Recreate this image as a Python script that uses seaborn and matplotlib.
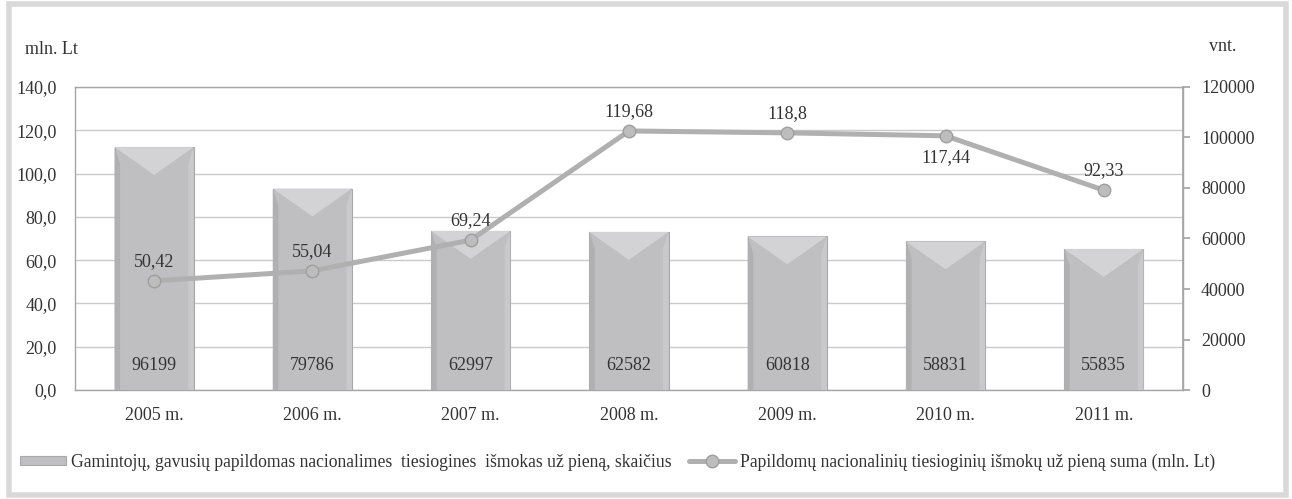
#import libraries
import seaborn as sns
import matplotlib.pyplot as plt
from matplotlib.patches import Polygon, Rectangle

#data
years = ['2005 m.', '2006 m.', '2007 m.', '2008 m.', '2009 m.', '2010 m.', '2011 m.']
farms = [96199, 79786, 62997, 62582, 60818, 58831, 55835]
payments = [50.42, 55.04, 69.24, 119.68, 118.8, 117.44, 92.33]
bar_label = 'Gamintojų, gavusių papildomas nacionalimes  tiesiogines  išmokas už pieną, skaičius'
line_label = 'Papildomų nacionalinių tiesioginių išmokų už pieną suma (mln. Lt)'

#settings
sns.set_theme(style='white')
plt.rcParams['font.family'] = ['Liberation Serif', 'DejaVu Serif']
txt = '#333333'
fs = 13

fig = plt.figure(figsize=(12.92, 4.99), dpi=100)
ax = fig.add_axes([0.058, 0.2184, 0.8576, 0.6073])
ax2 = ax.twinx()
ax3 = ax.twinx()

#left scale (mln. Lt) with grid
ax.set_ylim(0, 140)
ax.set_yticks(range(0, 141, 20))
ax.set_yticklabels([f'{v:.1f}'.replace('.', ',') for v in range(0, 141, 20)], color=txt, fontsize=fs)
ax.tick_params(axis='y', length=0, pad=13)
ax.grid(axis='y', color='#cacaca', linewidth=1)
ax.grid(axis='x', visible=False)
for s in ax.spines.values():
    s.set_color('#a6a6a6')
    s.set_linewidth(1)

#bars (right scale)
sns.barplot(x=years, y=farms, ax=ax2, color='#bfbfc1', width=0.5,
            edgecolor='#a8a8a8', linewidth=0.8, saturation=1)
ax2.set_ylim(0, 120000)
ax2.set_yticks(range(0, 120001, 20000))
ax2.tick_params(axis='y', length=5, color='#a6a6a6', pad=8, labelsize=fs, labelcolor=txt, right=True)
ax2.set_ylabel('')
for s in ax2.spines.values():
    s.set_visible(False)
ax2.spines['right'].set_visible(True)
ax2.spines['right'].set_color('#a6a6a6')

#bevel look on bars
depth = 0.092 * 120000
for p in ax2.patches:
    x0, w, h = p.get_x(), p.get_width(), p.get_height()
    ax2.add_patch(Polygon([(x0, h), (x0 + w, h), (x0 + w / 2, h - depth)],
                          closed=True, facecolor='#d3d3d5', edgecolor='none', zorder=3))
    ax2.add_patch(Polygon([(x0, h), (x0 + w * 0.07, h - depth * 0.6), (x0 + w * 0.07, 0), (x0, 0)],
                          closed=True, facecolor='#b0b0b2', edgecolor='none', zorder=3))
    ax2.add_patch(Polygon([(x0 + w, h), (x0 + w * 0.93, h - depth * 0.6), (x0 + w * 0.93, 0), (x0 + w, 0)],
                          closed=True, facecolor='#c9c9cb', edgecolor='none', zorder=3))

#bar value labels
for i, v in enumerate(farms):
    ax2.annotate(str(v), (i, 0), xytext=(0, 18), textcoords='offset points',
                 ha='center', va='center', fontsize=fs, color=txt, zorder=5)

#line (left scale)
sns.pointplot(x=years, y=payments, ax=ax3, color='#b0b0b0', markers='o',
              linestyles='-', linewidth=3.6, markersize=9,
              markeredgecolor='#9e9e9e', markeredgewidth=1, markerfacecolor='#bdbdbd')
ax3.set_ylim(0, 140)
ax3.set_yticks([])
ax3.set_ylabel('')
for s in ax3.spines.values():
    s.set_visible(False)
for i, v in enumerate(payments):
    off = -16 if i == 5 else 14
    ax3.annotate(f'{v:g}'.replace('.', ','), (i, v), xytext=(0, off), textcoords='offset points',
                 ha='center', va='center', fontsize=fs, color=txt)

#x axis
ax.set_xlim(-0.5, len(years) - 0.5)
ax2.set_xlim(-0.5, len(years) - 0.5)
ax3.set_xlim(-0.5, len(years) - 0.5)
ax.set_xticks(range(len(years)))
ax.set_xticklabels(years, color=txt, fontsize=fs)
ax.tick_params(axis='x', length=0, pad=12)
ax2.tick_params(axis='x', labelbottom=False, length=0)
ax3.tick_params(axis='x', labelbottom=False, length=0)
ax2.set_xlabel('')
ax3.set_xlabel('')

#axis titles
fig.text(0.019, 0.9, 'mln. Lt', fontsize=fs, color=txt, va='center')
fig.text(0.936, 0.906, 'vnt.', fontsize=fs, color=txt, va='center')

#legend
fig.legend([ax2.patches[0], ax3.lines[0]], [bar_label, line_label],
           loc='center', bbox_to_anchor=(0.478, 0.074), ncol=2, frameon=False,
           fontsize=12.7, labelcolor=txt, handlelength=2.6, handleheight=0.35,
           handletextpad=0.3, columnspacing=1.0)

#frame around figure
fig.patches.append(Rectangle((0.007, 0.008), 0.988, 0.984, transform=fig.transFigure,
                             fill=False, edgecolor='#d9d9d9', linewidth=4, figure=fig))

#save
fig.savefig('out.png', dpi=100)
